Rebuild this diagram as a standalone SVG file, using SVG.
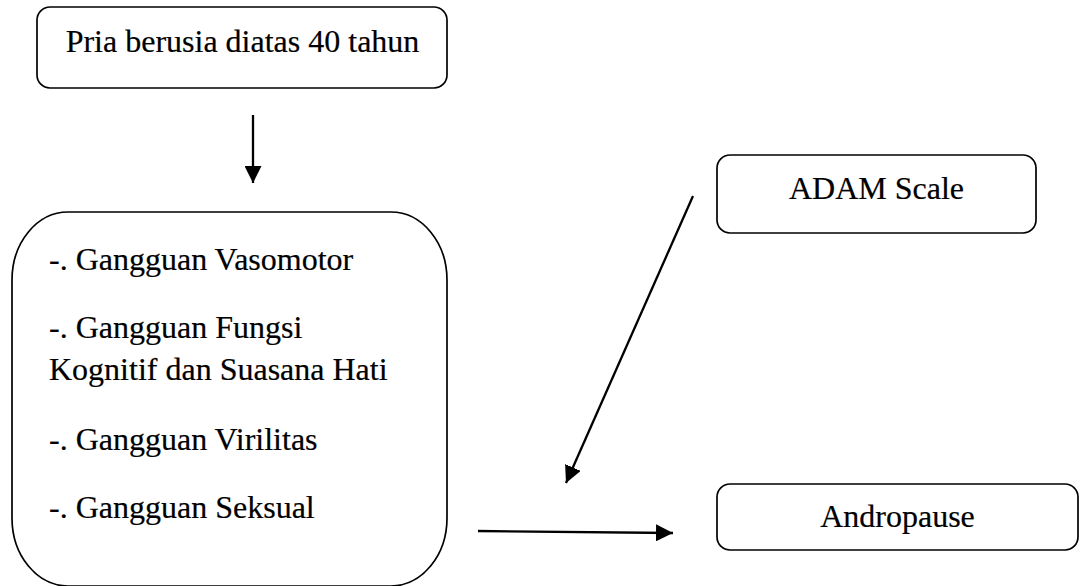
<svg xmlns="http://www.w3.org/2000/svg" width="1081" height="586" viewBox="0 0 1081 586">
<style>
.box{fill:#fff;stroke:#000;stroke-width:1.7}
.t{font-family:"Liberation Serif","Times New Roman",serif;font-size:32px;fill:#000;stroke:#000;stroke-width:0.2}
.c{text-anchor:middle}
.conn{stroke:#000;stroke-width:2.3;fill:none}
</style>
<defs>
<marker id="ah" markerUnits="userSpaceOnUse" markerWidth="17" markerHeight="17" viewBox="0 0 16 16" refX="16" refY="8" orient="auto">
<path d="M0,0 L16,8 L0,16 Z" fill="#000"/>
</marker>
</defs>
<rect width="1081" height="586" fill="#fff"/>
<g id="node-pria">
<rect class="box" x="37" y="7" width="410" height="81" rx="13" ry="13"/>
<text class="t c" x="242.5" y="52">Pria berusia diatas 40 tahun</text>
</g>
<g id="node-gangguan">
<rect class="box" x="12" y="212" width="435" height="374" rx="56" ry="68"/>
<text class="t" x="49" y="270">-. Gangguan Vasomotor</text>
<text class="t" x="49" y="338">-. Gangguan Fungsi</text>
<text class="t" x="49" y="380">Kognitif dan Suasana Hati</text>
<text class="t" x="49" y="450">-. Gangguan Virilitas</text>
<text class="t" x="49" y="518">-. Gangguan Seksual</text>
</g>
<g id="node-adam">
<rect class="box" x="717" y="155" width="319" height="78" rx="13" ry="13"/>
<text class="t c" x="876.5" y="199">ADAM Scale</text>
</g>
<g id="node-andropause">
<rect class="box" x="717" y="484" width="361" height="66" rx="13" ry="13"/>
<text class="t c" x="897.5" y="527">Andropause</text>
</g>
<g id="connectors">
<line class="conn" x1="253" y1="115" x2="253" y2="183" marker-end="url(#ah)"/>
<line class="conn" x1="693" y1="196" x2="566" y2="483" marker-end="url(#ah)"/>
<line class="conn" x1="478" y1="531" x2="673" y2="533" marker-end="url(#ah)"/>
</g>
</svg>
